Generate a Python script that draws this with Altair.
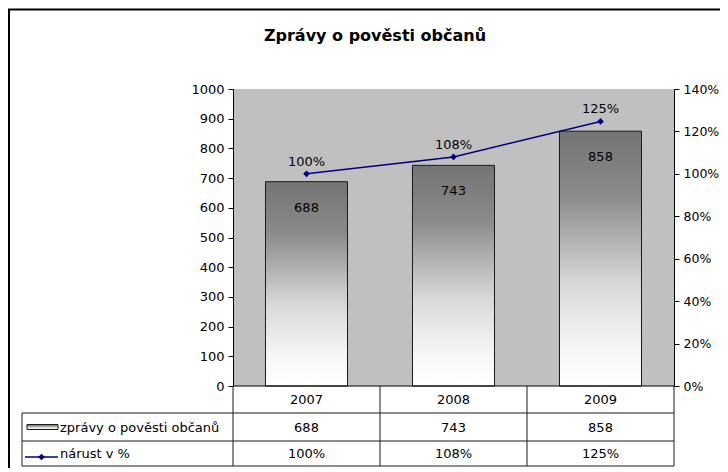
import altair as alt
import pandas as pd

# ---- data ----
years = ["2007", "2008", "2009"]
counts = [688, 743, 858]
growth = [1.00, 1.08, 1.247]
series_names = ["zprávy o pověsti občanů", "nárust v %"]
title_text = "Zprávy o pověsti občanů"
left_ticks = [0, 100, 200, 300, 400, 500, 600, 700, 800, 900, 1000]
right_ticks = [0, 0.2, 0.4, 0.6, 0.8, 1.0, 1.2, 1.4]

df = pd.DataFrame({"year": years, "count": counts, "growth": growth})
one = pd.DataFrame({"a": [0]})

W, H = 441, 297
FONT = "DejaVu Sans"
FS = 13
NAVY = "#000080"
LINE = "#1a1a1a"

grad = alt.Gradient(
    gradient="linear",
    stops=[
        alt.GradientStop(color="#747474", offset=0),
        alt.GradientStop(color="#8a8a8a", offset=0.25),
        alt.GradientStop(color="#d8d8d8", offset=0.6),
        alt.GradientStop(color="#f6f6f6", offset=0.85),
        alt.GradientStop(color="#ffffff", offset=1),
    ],
    x1=0, x2=0, y1=0, y2=1,
)

xenc = alt.X("year:N", sort=years,
             scale=alt.Scale(paddingInner=0.442, paddingOuter=0.221),
             axis=None)
yc_scale = alt.Scale(domain=[0, 1000], nice=False, zero=True)
yg_scale = alt.Scale(domain=[0, 1.4], nice=False, zero=True)

axis_common = dict(grid=False, domainColor="#000000", tickColor="#000000",
                   tickSize=5, labelFont=FONT,
                   labelColor="#000000", domainWidth=1, tickWidth=1)


def hrule(x1, x2, y, color=LINE, w=1.0):
    return alt.Chart(one).mark_rule(color=color, strokeWidth=w).encode(
        x=alt.value(x1), x2=alt.value(x2), y=alt.value(y))


def vrule(x, y1, y2, color=LINE, w=1.0):
    return alt.Chart(one).mark_rule(color=color, strokeWidth=w).encode(
        x=alt.value(x), y=alt.value(y1), y2=alt.value(y2))


# ---- bars ----
bars = alt.Chart(df).mark_bar(color=grad, stroke=LINE, strokeWidth=1).encode(
    x=xenc,
    y=alt.Y("count:Q", scale=yc_scale, title=None,
            axis=alt.Axis(values=left_ticks, labelPadding=4, orient="left",
                          format="d", labelFontSize=FS, **axis_common)),
)
bar_labels = alt.Chart(df).mark_text(font=FONT, fontSize=FS, color="#000000",
                                     baseline="middle", dy=26).encode(
    x=xenc,
    y=alt.Y("count:Q", scale=yc_scale, axis=None),
    text=alt.Text("count:Q"),
)

# ---- growth line ----
line = alt.Chart(df).mark_line(color=NAVY, strokeWidth=1.5).encode(
    x=xenc,
    y=alt.Y("growth:Q", scale=yg_scale, title=None,
            axis=alt.Axis(orient="right", values=right_ticks, format=".0%",
                          labelPadding=4, labelFontSize=12.5, **axis_common)),
)
points = alt.Chart(df).mark_point(shape="diamond", filled=True, size=45,
                                  color=NAVY, opacity=1).encode(
    x=xenc,
    y=alt.Y("growth:Q", scale=yg_scale, axis=None),
)
line_labels = alt.Chart(df).mark_text(font=FONT, fontSize=FS, color="#000000",
                                      baseline="middle", dy=-12).encode(
    x=xenc,
    y=alt.Y("growth:Q", scale=yg_scale, axis=None),
    text=alt.Text("growth:Q", format=".0%"),
)

# ---- data table under the plot ----
ROW0, ROW1, ROW2 = 310.5, 338.5, 364.5
tbl_year = alt.Chart(df).mark_text(font=FONT, fontSize=FS, color="#000000",
                                   baseline="middle").encode(
    x=xenc, y=alt.value(ROW0), text="year:N")
tbl_count = alt.Chart(df).mark_text(font=FONT, fontSize=FS, color="#000000",
                                    baseline="middle").encode(
    x=xenc, y=alt.value(ROW1), text="count:Q")
tbl_growth = alt.Chart(df).mark_text(font=FONT, fontSize=FS, color="#000000",
                                     baseline="middle").encode(
    x=xenc, y=alt.value(ROW2), text=alt.Text("growth:Q", format=".0%"))

name1 = alt.Chart(pd.DataFrame({"name": [series_names[0]]})).mark_text(
    font=FONT, fontSize=FS, color="#000000", align="left", baseline="middle").encode(
    x=alt.value(-173), y=alt.value(ROW1), text="name:N")
name2 = alt.Chart(pd.DataFrame({"name": [series_names[1]]})).mark_text(
    font=FONT, fontSize=FS, color="#000000", align="left", baseline="middle").encode(
    x=alt.value(-173), y=alt.value(ROW2), text="name:N")

key_bar = alt.Chart(one).mark_rect(color=grad, stroke=LINE, strokeWidth=1).encode(
    x=alt.value(-206), x2=alt.value(-175), y=alt.value(335.5), y2=alt.value(340.5))
key_line = hrule(-208, -175, 368, color=NAVY, w=1.5)
key_pt = alt.Chart(one).mark_point(shape="diamond", filled=True, size=45,
                                   color=NAVY, opacity=1).encode(
    x=alt.value(-191.5), y=alt.value(368))

table_lines = [
    hrule(0, W, H, color="#000000"),
    hrule(-211, W, 324), hrule(-211, W, 352), hrule(-211, W, 377),
    vrule(-211, 324, 377),
    vrule(0, H, 377), vrule(147, H, 377), vrule(294, H, 377), vrule(W, H, 377),
]

# ---- title and outer frame ----
title = alt.Chart(pd.DataFrame({"t": [title_text]})).mark_text(
    font=FONT, fontSize=16, fontWeight="bold", color="#000000",
    align="center", baseline="alphabetic").encode(
    x=alt.value(142), y=alt.value(-48), text="t:N")
frame = [hrule(-225, 520, -79.5, color="#000000", w=2),
         vrule(-224, -79.5, 400, color="#000000", w=2)]

chart = alt.layer(
    bars, line, bar_labels, points, line_labels,
    *frame, title, *table_lines, tbl_year, tbl_count, tbl_growth,
    name1, name2, key_bar, key_line, key_pt,
).resolve_scale(y="independent").properties(
    width=W, height=H,
    autosize=alt.AutoSizeParams(type="none"),
    padding={"left": 225, "top": 81, "right": 46, "bottom": 82},
    background="white",
).configure_view(fill="#c0c0c0", strokeWidth=0)

chart.save("out.html", embed_options={"renderer": "svg", "actions": False})
